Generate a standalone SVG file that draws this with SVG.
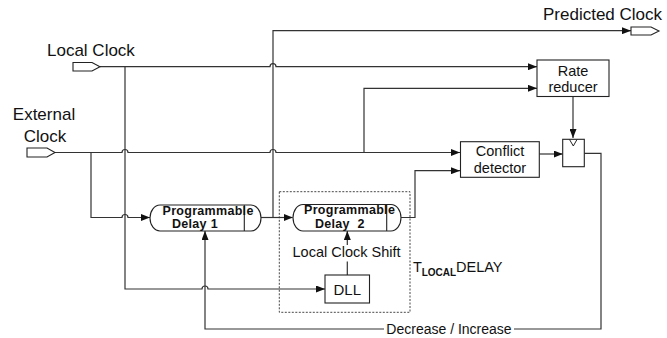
<svg xmlns="http://www.w3.org/2000/svg" width="667" height="338" viewBox="0 0 667 338">
<style>
  text { font-family: "Liberation Sans", Arial, sans-serif; fill: #111; }
  .lbl { font-size: 17px; }
  .box { fill: #fff; stroke: #222; stroke-width: 1.1; }
  .wire { fill: none; stroke: #333; stroke-width: 1.2; }
  .arr { marker-end: url(#ah); }
  .pd { font-size: 12.5px; font-weight: bold; letter-spacing: 0.3px; }
  .mid { font-size: 14.5px; }
</style>
<defs>
  <marker id="ah" markerUnits="userSpaceOnUse" markerWidth="9" markerHeight="7" refX="9" refY="3.5" orient="auto">
    <path d="M0,0 L9,3.5 L0,7 Z" fill="#111"/>
  </marker>
</defs>

<g id="connectors">
  <path class="wire arr" d="M100 66.7 H270 a3 3 0 0 1 6 0 H537"/>
  <path class="wire arr" d="M125 66.7 V289 H202 a3 3 0 0 1 6 0 H325"/>
  <path class="wire arr" d="M55 152.5 H122 a3 3 0 0 1 6 0 H270 a3 3 0 0 1 6 0 H460"/>
  <path class="wire arr" d="M91 152.5 V217.5 H122 a3 3 0 0 1 6 0 H150"/>
  <path class="wire arr" d="M364 152.5 V88.3 H537"/>
  <path class="wire arr" d="M261 217.5 H292.7"/>
  <path class="wire arr" d="M273 217.5 V30.7 H631"/>
  <path class="wire arr" d="M401 217.5 H415 V170.7 H460"/>
  <path class="wire arr" d="M539.3 154 H562.7"/>
  <path class="wire arr" d="M573 96.7 V138"/>
  <path class="wire" d="M584.3 153.3 H601 V329 H514"/>
  <path class="wire arr" d="M384 329 H205 V231"/>
  <path class="wire" d="M347.3 275 V261.5"/>
  <path class="wire arr" d="M347.3 245 V231"/>
</g>

<g id="local-clock">
  <path class="box" d="M73 62.5 H92 L100 66.7 L92 71 H73 Z"/>
  <text class="lbl" x="47" y="56">Local Clock</text>
</g>

<g id="external-clock">
  <path class="box" d="M27 148 H47 L55 152.5 L47 157 H27 Z"/>
  <text class="lbl" x="44" y="120" text-anchor="middle">External</text>
  <text class="lbl" x="45" y="141.5" text-anchor="middle">Clock</text>
</g>

<g id="predicted-clock">
  <path class="box" d="M631 27 H651 L659 31 L651 35 H631 Z"/>
  <text class="lbl" x="543" y="20">Predicted Clock</text>
</g>

<g id="rate-reducer">
  <rect class="box" x="537" y="60" width="72" height="36.5"/>
  <text x="573" y="75.5" font-size="14.5" text-anchor="middle">Rate</text>
  <text x="573" y="91.5" font-size="14.5" text-anchor="middle">reducer</text>
</g>

<g id="conflict-detector">
  <rect class="box" x="460.5" y="141.7" width="78.8" height="35.6"/>
  <text x="500" y="156" font-size="14.5" text-anchor="middle">Conflict</text>
  <text x="500" y="172.5" font-size="14.5" text-anchor="middle">detector</text>
</g>

<g id="flipflop">
  <rect class="box" x="562.7" y="139.3" width="21.6" height="27.4"/>
  <path d="M569.5 139.5 L573.3 146 L577 139.5" fill="none" stroke="#222" stroke-width="1"/>
</g>

<g id="delay1">
  <path class="box" d="M160 205 H251 A10 13 0 0 1 251 231 H160 A10 13 0 0 1 160 205 Z"/>
  <line x1="244.3" y1="205" x2="244.3" y2="231" stroke="#222" stroke-width="1.1"/>
  <text class="pd" x="162.5" y="215">Programmable</text>
  <text class="pd" x="172" y="228">Delay 1</text>
</g>

<g id="delay2-region">
  <rect x="279.3" y="191.7" width="130.7" height="120.6" fill="none" stroke="#333" stroke-width="0.9" stroke-dasharray="2,1.5"/>
  <text x="413" y="271.5" font-size="14.5">T</text>
  <text x="421.7" y="275.5" font-size="10" font-weight="bold">LOCAL</text>
  <text x="456" y="271.5" font-size="14.5">DELAY</text>
</g>

<g id="delay2">
  <path class="box" d="M303 204.5 H391 A10 13.25 0 0 1 391 231 H303 A10 13.25 0 0 1 303 204.5 Z"/>
  <line x1="386.7" y1="204.5" x2="386.7" y2="231" stroke="#222" stroke-width="1.1"/>
  <text class="pd" x="304" y="214">Programmable</text>
  <text class="pd" x="315" y="228" xml:space="preserve">Delay  2</text>
</g>

<g id="local-clock-shift">
  <text class="mid" x="346.5" y="257" text-anchor="middle">Local Clock Shift</text>
</g>

<g id="dll">
  <rect class="box" x="325" y="275" width="44.5" height="28"/>
  <text x="347.3" y="295" font-size="15" text-anchor="middle">DLL</text>
</g>

<g id="feedback-label">
  <text x="449" y="334" font-size="14" text-anchor="middle">Decrease / Increase</text>
</g>
</svg>
